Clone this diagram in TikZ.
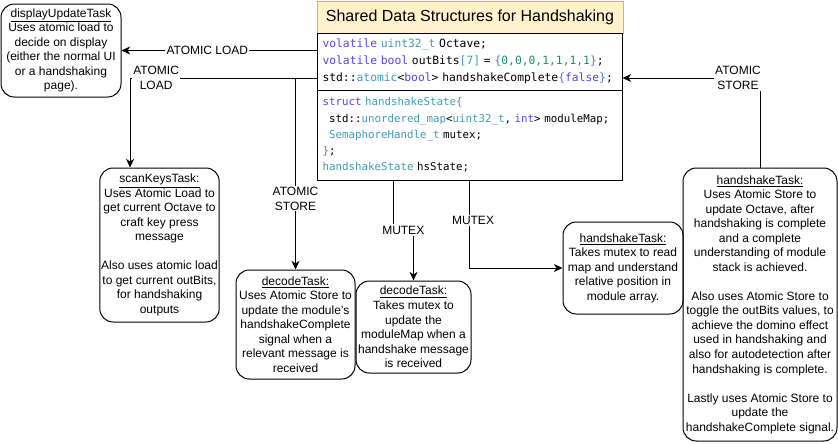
\documentclass[tikz,border=0pt]{standalone}
\usepackage{fontspec}
\setmainfont{Liberation Sans}
\setmonofont{DejaVu Sans Mono}
\usetikzlibrary{arrows.meta,positioning,calc}
\definecolor{kwcol}{HTML}{5A43E0}
\definecolor{tycol}{HTML}{3F9CB8}
\definecolor{nmcol}{HTML}{1E8C6E}
\definecolor{brcol}{HTML}{4A7BD9}
\definecolor{titlefill}{HTML}{FFF2CC}
\definecolor{titledraw}{HTML}{D6B656}
\newcommand{\kw}[1]{\textcolor{kwcol}{#1}}
\newcommand{\ty}[1]{\textcolor{tycol}{#1}}
\newcommand{\nm}[1]{\textcolor{nmcol}{#1}}
\newcommand{\br}[1]{\textcolor{brcol}{#1}}

\begin{document}
\begin{tikzpicture}[x=0.75pt, y=-0.75pt,
  task/.style={rectangle, draw, line width=0.75pt, rounded corners=10pt, align=center, inner sep=1pt, font=\fontsize{9}{10.9}\selectfont},
  code/.style={rectangle, draw, line width=0.75pt, align=left, inner xsep=3.75pt, text width=220.5pt, minimum width=228.75pt, font=\ttfamily},
  lbl/.style={fill=white, inner sep=1pt, align=center, font=\fontsize{9}{10.9}\selectfont},
  arr/.style={-{Stealth[length=6.5pt, width=6pt, inset=2pt]}, line width=0.75pt}
]
  \useasboundingbox (0,0) rectangle (838,443);

  \node[rectangle, draw=titledraw, fill=titlefill, line width=0.75pt, minimum width=229.5pt, minimum height=24pt, font=\fontsize{12}{14.4}\selectfont] (title) at (470,17) {Shared Data Structures for Handshaking};
  \node[code, minimum height=42.75pt, font=\ttfamily\fontsize{8.5}{13}\selectfont] (upper) at (469.5,61.5)
    {\kw{volatile} \ty{uint32\_t} Octave;\\
     \kw{volatile} \kw{bool} outBits\ty{[7]} = \br{\{}\nm{0,0,0,1,1,1,1}\br{\}};\\
     std::\ty{atomic}<\kw{bool}> handshakeComplete\br{\{}\kw{false}\br{\}};};
  \node[code, minimum height=67.5pt, font=\ttfamily\fontsize{8.1}{12.2}\selectfont] (lower) at (469.5,135)
    {\kw{struct} \ty{handshakeState}\br{\{}\\
     \phantom{s}std::\ty{unordered\_map}<\ty{uint32\_t}, \kw{int}> moduleMap;\\
     \phantom{s}\ty{SemaphoreHandle\_t} mutex;\\
     \br{\}};\\
     \ty{handshakeState} hsState;};

  \node[task, minimum width=90pt, minimum height=69.75pt] (disp) at (61,50.5)
    {\underline{displayUpdateTask}\\Uses atomic load to\\decide on display\\(either the normal UI\\or a handshaking\\page).};
  \node[task, minimum width=89.25pt, minimum height=115.5pt] (scan) at (159.5,245)
    {\underline{scanKeysTask:}\\Uses Atomic Load to\\get current Octave to\\craft key press\\message\\ \\Also uses atomic load\\to get current outBits,\\for handshaking\\outputs};
  \node[task, minimum width=89.25pt, minimum height=81.75pt] (dec1) at (295.5,324.5)
    {\underline{decodeTask:}\\Uses Atomic Store to\\update the module's\\handshakeComplete\\signal when a\\relevant message is\\received};
  \node[task, minimum width=86.25pt, minimum height=69pt] (dec2) at (413.5,327)
    {\underline{decodeTask:}\\Takes mutex to\\update the\\moduleMap when a\\handshake message\\is received};
  \node[task, minimum width=90pt, minimum height=69pt] (hs1) at (623,268)
    {\underline{handshakeTask:}\\Takes mutex to read\\map and understand\\relative position in\\module array.};
  \node[task, minimum width=115.5pt, minimum height=204.75pt] (hs2) at (760,304.5)
    {\underline{handshakeTask:}\\Uses Atomic Store to\\update Octave, after\\handshaking is complete\\and a complete\\understanding of module\\stack is achieved.\\ \\Also uses Atomic Store to\\toggle the outBits values, to\\achieve the domino effect\\used in handshaking and\\also for autodetection after\\handshaking is complete.\\ \\Lastly uses Atomic Store to\\update the\\handshakeComplete signal.};

  \coordinate (tapL) at (upper.west |- 0,78);
  \coordinate (tapR) at (upper.east |- 0,78);

  \draw[arr] (upper.west |- disp.east) -- node[lbl, pos=0.56] {ATOMIC LOAD} (disp.east);
  \draw[arr] (tapL) -| node[lbl, pos=0.43] {ATOMIC\\LOAD} ([xshift=-22.1pt]scan.north);
  \draw[arr] (dec1.north |- tapL) -- node[lbl, pos=0.63] {ATOMIC\\STORE} (dec1.north);
  \draw[arr] (lower.south -| 393,0) -- (393,230) -| node[lbl, pos=0.25] {MUTEX} (dec2.north);
  \draw[arr] (lower.south -| 469,0) |- node[lbl, pos=0.227, xshift=3pt] {MUTEX} (hs1.west);
  \draw[arr] (hs2.north) |- node[lbl, pos=0.58] {ATOMIC\\STORE} (tapR);
\end{tikzpicture}
\end{document}
